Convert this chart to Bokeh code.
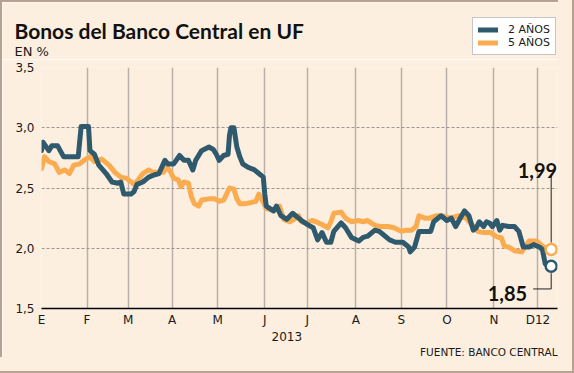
from bokeh.plotting import figure
from bokeh.layouts import column
from bokeh.models import (FixedTicker, Label, Legend, LegendItem, Range1d, LinearAxis, Title,
                          CustomJSTickFormatter)
from bokeh.embed import file_html
from bokeh.resources import INLINE

# ---------------- data ----------------
days_2 = [0, 1, 5, 7, 11, 15, 25, 27, 32, 33, 36, 39, 44, 48, 52, 54, 56, 61, 63, 65,
          69, 73, 77, 80, 84, 86, 90, 94, 97, 100, 103, 105, 109, 114, 117, 119, 121, 124, 127, 128,
          129, 131, 133, 135, 137, 141, 145, 148, 151, 152, 153, 158, 160, 163, 167, 171, 175, 177, 182, 185,
          188, 191, 194, 197, 199, 204, 207, 211, 216, 219, 222, 227, 230, 233, 237, 241, 246, 250, 251, 254,
          257, 265, 267, 272, 276, 279, 282, 286, 288, 291, 294, 296, 298, 301, 303, 305, 307, 310, 312, 314,
          318, 322, 325, 328, 332, 335, 339, 341, 343, 347]
vals_2 = [2.81, 2.88, 2.81, 2.85, 2.85, 2.76, 2.76, 3.01, 3.01, 2.81, 2.78, 2.69, 2.62, 2.55, 2.54, 2.55, 2.45, 2.45, 2.47, 2.53,
          2.55, 2.59, 2.61, 2.62, 2.73, 2.70, 2.70, 2.77, 2.73, 2.73, 2.65, 2.73, 2.81, 2.84, 2.82, 2.78, 2.73, 2.77, 2.78, 2.94,
          3.00, 3.00, 2.84, 2.76, 2.70, 2.67, 2.65, 2.62, 2.59, 2.45, 2.35, 2.31, 2.35, 2.27, 2.24, 2.29, 2.25, 2.23, 2.19, 2.17,
          2.07, 2.13, 2.05, 2.05, 2.14, 2.21, 2.17, 2.09, 2.06, 2.09, 2.10, 2.15, 2.14, 2.11, 2.07, 2.05, 2.05, 2.01, 1.97, 2.01,
          2.14, 2.14, 2.22, 2.27, 2.23, 2.25, 2.18, 2.27, 2.31, 2.27, 2.15, 2.17, 2.22, 2.18, 2.22, 2.21, 2.18, 2.23, 2.15, 2.19,
          2.18, 2.18, 2.14, 2.01, 2.01, 2.03, 2.01, 1.99, 1.87, 1.85]

days_5 = [0, 2, 5, 9, 12, 16, 19, 22, 26, 29, 33, 36, 41, 46, 50, 54, 58, 63, 66, 69,
          73, 76, 83, 85, 88, 90, 93, 95, 97, 100, 102, 104, 107, 109, 114, 118, 121, 124, 128, 131,
          133, 135, 139, 143, 146, 148, 151, 153, 158, 162, 165, 169, 172, 175, 177, 180, 184, 187, 192, 195,
          197, 199, 204, 207, 211, 216, 219, 222, 227, 231, 236, 240, 245, 248, 252, 255, 257, 261, 264, 269,
          273, 278, 284, 289, 294, 297, 301, 306, 308, 311, 313, 315, 318, 322, 327, 329, 332, 337, 340, 344,
          347]
vals_5 = [2.66, 2.76, 2.72, 2.70, 2.63, 2.65, 2.62, 2.69, 2.70, 2.73, 2.76, 2.72, 2.74, 2.69, 2.63, 2.59, 2.58, 2.53, 2.57, 2.62,
          2.65, 2.63, 2.63, 2.68, 2.63, 2.58, 2.57, 2.51, 2.55, 2.54, 2.43, 2.37, 2.35, 2.40, 2.41, 2.41, 2.39, 2.40, 2.50, 2.49,
          2.41, 2.37, 2.37, 2.38, 2.39, 2.45, 2.38, 2.33, 2.31, 2.35, 2.24, 2.22, 2.24, 2.27, 2.22, 2.21, 2.23, 2.22, 2.19, 2.17,
          2.22, 2.29, 2.30, 2.25, 2.22, 2.23, 2.22, 2.23, 2.19, 2.18, 2.18, 2.17, 2.14, 2.15, 2.15, 2.18, 2.27, 2.25, 2.25, 2.27,
          2.27, 2.25, 2.27, 2.25, 2.18, 2.14, 2.13, 2.13, 2.11, 2.09, 2.09, 2.02, 2.01, 1.98, 1.97, 2.01, 2.06, 2.06, 2.03, 1.99,
          1.99]

tick_days = [0, 31, 59, 89, 120, 152, 181, 214, 245, 276, 308, 338]
tick_labels = ["E", "F", "M", "A", "M", "J", "J", "A", "S", "O", "N", "D12"]
year_tick = [167]
year_label = "2013"
y_ticks = [1.5, 2.0, 2.5, 3.0, 3.5]
series_names = ["2 AÑOS", "5 AÑOS"]
title_text = "Bonos del Banco Central en UF"
unit_text = "EN %"
source_text = "FUENTE: BANCO CENTRAL"

# ---------------- style ----------------
BG = "#fcefdf"
BLUE = "#2f5a6d"
ORANGE = "#fbac50"
TXT = "#1a1a1a"
FRAME = "#b9a192"
B = 2                            # css border on top/left
W = 558 - B
HEAD_H = 59 - B
MAIN_H = 357 - 59
ML, MR, MT = 41 - B, 1, 8
FH = 245
MB = MAIN_H - MT - FH
FW = W - ML - MR
X0, Y0, Y1 = 0, 1.5, 3.5
KX = 1.4688                     # px per day
X1 = X0 + FW / KX
sy = FH / (Y1 - Y0)
sx = KX

# ---------------- header (title, unit, legend) ----------------
h = figure(width=W, height=HEAD_H, output_backend="svg", toolbar_location=None,
           x_range=Range1d(B, W + B), y_range=Range1d(HEAD_H + B, B),
           x_axis_type=None, y_axis_type=None,
           min_border_left=0, min_border_right=0, min_border_top=0, min_border_bottom=0,
           background_fill_color=BG, border_fill_color=BG)
h.frame_align = False
h.outline_line_color = None
h.grid.visible = False
h.add_layout(Label(x=14, y=30, text=title_text, text_font="Lato", text_font_style="bold",
                   text_font_size="21px", text_baseline="alphabetic", text_color="#111111"))
h.add_layout(Label(x=14, y=51, text=unit_text, text_font="DejaVu Sans",
                   text_font_size="13px", text_baseline="alphabetic", text_color=TXT))
lg2 = h.line([-100, -90], [-100, -100], line_width=5, color=BLUE, line_cap="round")
lg5 = h.line([-100, -90], [-100, -100], line_width=5, color=ORANGE, line_cap="round")
legend = Legend(items=[LegendItem(label=series_names[0], renderers=[lg2]),
                       LegendItem(label=series_names[1], renderers=[lg5])],
                location=(472 - B, (HEAD_H + B) - 55),
                orientation="vertical", background_fill_color="white", background_fill_alpha=1,
                border_line_color="#8c8c8c", border_line_width=1,
                glyph_width=20, glyph_height=13, label_height=13, spacing=0, padding=5, margin=0,
                label_standoff=10, label_text_font="DejaVu Sans", label_text_font_size="11px",
                label_text_color=TXT)
h.add_layout(legend)

# ---------------- main chart ----------------
p = figure(width=W, height=MAIN_H, output_backend="svg", toolbar_location=None,
           x_range=Range1d(X0, X1), y_range=Range1d(Y0, Y1),
           min_border_left=ML, min_border_right=MR, min_border_top=MT, min_border_bottom=MB,
           background_fill_color=BG, border_fill_color=BG)
p.frame_align = False
p.outline_line_color = None

p.xaxis.ticker = FixedTicker(ticks=tick_days)
p.xaxis.major_label_overrides = {d: t for d, t in zip(tick_days, tick_labels)}
p.xaxis.major_tick_line_color = None
p.xaxis.major_tick_out = 0
p.xaxis.minor_tick_line_color = None
p.xaxis.axis_line_color = "black"
p.xaxis.axis_line_width = 1.5
p.xaxis.major_label_standoff = 4
p.xaxis.major_label_text_font = "DejaVu Sans"
p.xaxis.major_label_text_font_size = "12px"
p.xaxis.major_label_text_color = TXT

year_axis = LinearAxis(ticker=FixedTicker(ticks=year_tick),
                       major_label_overrides={year_tick[0]: year_label},
                       axis_line_color=None, major_tick_line_color=None, minor_tick_line_color=None,
                       major_tick_out=0, major_label_standoff=2,
                       major_label_text_font="DejaVu Sans", major_label_text_font_size="12px",
                       major_label_text_color=TXT)
p.add_layout(year_axis, "below")

p.add_layout(Title(text=source_text, align="right", text_font="DejaVu Sans",
                   text_font_size="10.5px", text_font_style="normal", text_color=TXT,
                   standoff=0, offset=0), "below")

p.yaxis.ticker = FixedTicker(ticks=y_ticks)
p.yaxis.formatter = CustomJSTickFormatter(code="return tick.toFixed(1).replace('.', ',');")
p.yaxis.axis_line_color = None
p.yaxis.major_tick_line_color = None
p.yaxis.major_tick_out = 0
p.yaxis.minor_tick_line_color = None
p.yaxis.major_label_standoff = 7
p.yaxis.major_label_text_font = "DejaVu Sans"
p.yaxis.major_label_text_font_size = "12px"
p.yaxis.major_label_text_color = TXT

p.ygrid.ticker = FixedTicker(ticks=y_ticks[1:])
p.ygrid.grid_line_color = "#9d9791"
p.ygrid.grid_line_dash = "3 2"
p.ygrid.grid_line_width = 1
p.xgrid.ticker = FixedTicker(ticks=tick_days[1:])
p.xgrid.grid_line_color = "#b8b0a8"
p.xgrid.grid_line_width = 1.5

r5 = p.line(days_5, vals_5, line_width=5, color=ORANGE, line_join="round", line_cap="round")
r2 = p.line(days_2, vals_2, line_width=5, color=BLUE, line_join="round", line_cap="round")

p.scatter([days_5[-1]], [vals_5[-1]], size=11, marker="circle", fill_color="white",
          line_color=ORANGE, line_width=2.5)
p.scatter([days_2[-1]], [vals_2[-1]], size=11, marker="circle", fill_color="white",
          line_color=BLUE, line_width=2.5)

xe = days_2[-1]
lead_col = "#222222"
p.line([xe, xe], [vals_5[-1] + 7 / sy, vals_5[-1] + 75 / sy], line_color=lead_col, line_width=1)
p.line([xe - 18 / sx, xe, xe], [vals_2[-1] - 23 / sy, vals_2[-1] - 23 / sy, vals_2[-1] - 7 / sy],
       line_color=lead_col, line_width=1)

fmt = lambda v: f"{v:.2f}".replace(".", ",")
p.add_layout(Label(x=xe + 6 / sx, y=vals_5[-1] + 80 / sy, text=fmt(vals_5[-1]), text_align="right",
                   text_baseline="alphabetic", text_font="Lato", text_font_style="bold",
                   text_font_size="20px", text_color="#111111"))
p.add_layout(Label(x=xe - 24 / sx, y=vals_2[-1] - 28 / sy, text=fmt(vals_2[-1]), text_align="right",
                   text_baseline="alphabetic", text_font="Lato", text_font_style="bold",
                   text_font_size="20px", text_color="#111111"))

layout = column(h, p, spacing=0)
layout.styles = {"border-left": f"{B}px solid {FRAME}", "border-top": f"{B}px solid {FRAME}",
                 "box-shadow": f"0 0 0 14px {BG}, 0 0 0 16px {FRAME}"}

open("out.html", "w").write(file_html(layout, INLINE))
